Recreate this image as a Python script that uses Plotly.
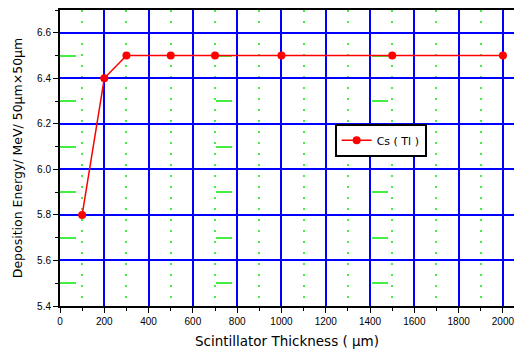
import plotly.graph_objects as go

thickness = [100, 200, 300, 500, 700, 1000, 1500, 2000]
energy = [5.8, 6.4, 6.5, 6.5, 6.5, 6.5, 6.5, 6.5]
series_name = "Cs ( Tl )"
x_title = "Scintillator Thickness ( μm)"
y_title = "Deposition Energy/ MeV/ 50μm×50μm"

fig = go.Figure()
fig.add_trace(go.Scatter(
    x=thickness, y=energy, mode="lines+markers", name=series_name,
    line=dict(color="#ff0000", width=1.5),
    marker=dict(color="#ff0000", size=8, symbol="circle"),
    cliponaxis=False,
))

font = dict(family="Liberation Sans, Arial, sans-serif", size=10, color="black")
tfont = "DejaVu Sans, Verdana, sans-serif"

fig.update_layout(
    width=514, height=349,
    margin=dict(l=60, r=0, t=10, b=43),
    paper_bgcolor="white", plot_bgcolor="white",
    font=font,
    showlegend=True,
    legend=dict(x=0.605, y=0.56, xanchor="left", yanchor="middle",
                bgcolor="white", bordercolor="black", borderwidth=2,
                font=dict(size=11, family=tfont)),
    xaxis=dict(
        range=[0, 2050], tickmode="linear", tick0=0, dtick=200,
        showgrid=True, gridcolor="#0000ff", gridwidth=2,
        showline=True, linecolor="black", linewidth=2, mirror=True,
        ticks="outside", ticklen=5, tickcolor="black", tickwidth=1,
        ticklabeloverflow="allow",
        minor=dict(dtick=100, showgrid=True, gridcolor="#44ee44", griddash="2px,9px",
                   gridwidth=1.5, ticks="outside", ticklen=3, tickcolor="black"),
        zeroline=False,
        title=dict(text=x_title, font=dict(size=13.5, family=tfont), standoff=11),
        tickfont=dict(size=10),
    ),
    yaxis=dict(
        range=[5.4, 6.7], tickmode="linear", tick0=5.4, dtick=0.2,
        tickformat=".1f",
        showgrid=True, gridcolor="#0000ff", gridwidth=2,
        showline=True, linecolor="black", linewidth=2, mirror=False,
        ticks="outside", ticklen=5, tickcolor="black", tickwidth=1,
        minor=dict(dtick=0.1, showgrid=True, gridcolor="#44ee44",
                   griddash="16px,140px", gridwidth=1.5,
                   ticks="outside", ticklen=3, tickcolor="black"),
        zeroline=False,
        title=dict(text=y_title, font=dict(size=12.5, family=tfont), standoff=12),
        tickfont=dict(size=10),
    ),
)

fig.write_html("out.html")
